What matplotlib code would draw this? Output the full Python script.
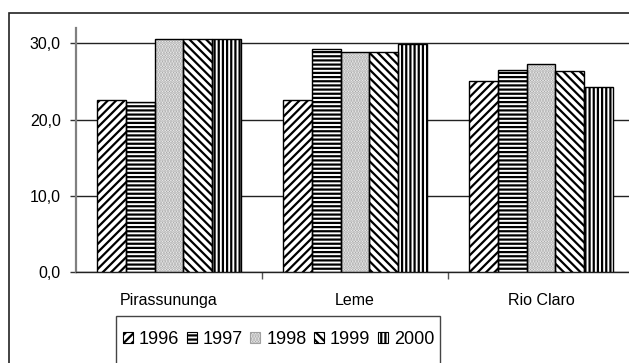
import matplotlib
matplotlib.use("Agg")
import matplotlib.pyplot as plt
from matplotlib.patches import Rectangle, Patch
import numpy as np

categories = ["Pirassununga", "Leme", "Rio Claro"]
years = ["1996", "1997", "1998", "1999", "2000"]
v1996 = [22.5, 22.5, 25.0]
v1997 = [22.3, 29.2, 26.5]
v1998 = [30.5, 28.8, 27.3]
v1999 = [30.6, 28.8, 26.3]
v2000 = [30.6, 29.9, 24.3]
series = [v1996, v1997, v1998, v1999, v2000]
yticks = [0, 10, 20, 30]
ytick_labels = ["0,0", "10,0", "20,0", "30,0"]

plt.rcParams['font.family'] = ['Liberation Sans', 'DejaVu Sans']
plt.rcParams['hatch.linewidth'] = 1.6

W, H = 629, 363
fig = plt.figure(figsize=(W / 100, H / 100), dpi=100)
ax = fig.add_axes([76 / W, 1 - 272 / H, (634 - 76) / W, (272 - 28) / H])

hatches = ['////', '----', '......', '\\\\\\\\', '||||']
hatch_cols = ['black', 'black', '#a0a0a0', 'black', 'black']
bw = 0.155
x = np.arange(len(categories))
handles = []
for i, (vals, h, hc) in enumerate(zip(series, hatches, hatch_cols)):
    pos = x + (i - 2) * bw
    ax.bar(pos, vals, width=bw, color='white', edgecolor=hc, hatch=h,
           linewidth=0, zorder=3)
    ax.bar(pos, vals, width=bw, fill=False, edgecolor='black',
           linewidth=1.0, zorder=4)
    handles.append(Patch(facecolor='white', edgecolor=hc, hatch=h,
                         linewidth=0.8, label=years[i]))

ax.set_xlim(-0.5, 2.5)
ax.set_ylim(0, 32)
ax.set_yticks(yticks)
ax.set_yticklabels(ytick_labels)
ax.set_xticks(x)
ax.set_xticklabels(categories)
ax.set_xticks([0.5, 1.5, 2.5], minor=True)
ax.tick_params(axis='x', which='major', length=0, pad=15, labelsize=11.5)
ax.tick_params(axis='x', which='minor', length=5, width=1, color='#555555')
ax.tick_params(axis='y', length=4, width=1, pad=7, labelsize=11.5,
               color='#333333')
ax.yaxis.grid(True, color='#222222', linewidth=1.0, zorder=0)
ax.set_axisbelow(True)
for s in ['top', 'right']:
    ax.spines[s].set_visible(False)
ax.spines['left'].set_color('#808080')
ax.spines['left'].set_linewidth(1.6)
ax.spines['bottom'].set_color('#222222')
ax.spines['bottom'].set_linewidth(1.0)

# outer frame
fig.patches.append(Rectangle((9 / W, -0.2), 1.2, 0.2 + 1 - 12.7 / H,
                             transform=fig.transFigure, fill=False,
                             edgecolor='#222222', linewidth=1.2, zorder=0))
# legend frame
fig.patches.append(Rectangle((116 / W, -0.2), (440 - 116) / W,
                             0.2 + 1 - 316 / H, transform=fig.transFigure,
                             fill=False, edgecolor='#444444', linewidth=1.0))

fig.legend(handles=handles, loc='center left',
           bbox_to_anchor=(123 / W, 1 - 339 / H),
           bbox_transform=fig.transFigure, ncol=5, frameon=False,
           fontsize=13, handlelength=0.55, handleheight=0.55,
           handletextpad=0.33, columnspacing=0.42, borderpad=0,
           borderaxespad=0)

fig.savefig("out.png", dpi=100)
